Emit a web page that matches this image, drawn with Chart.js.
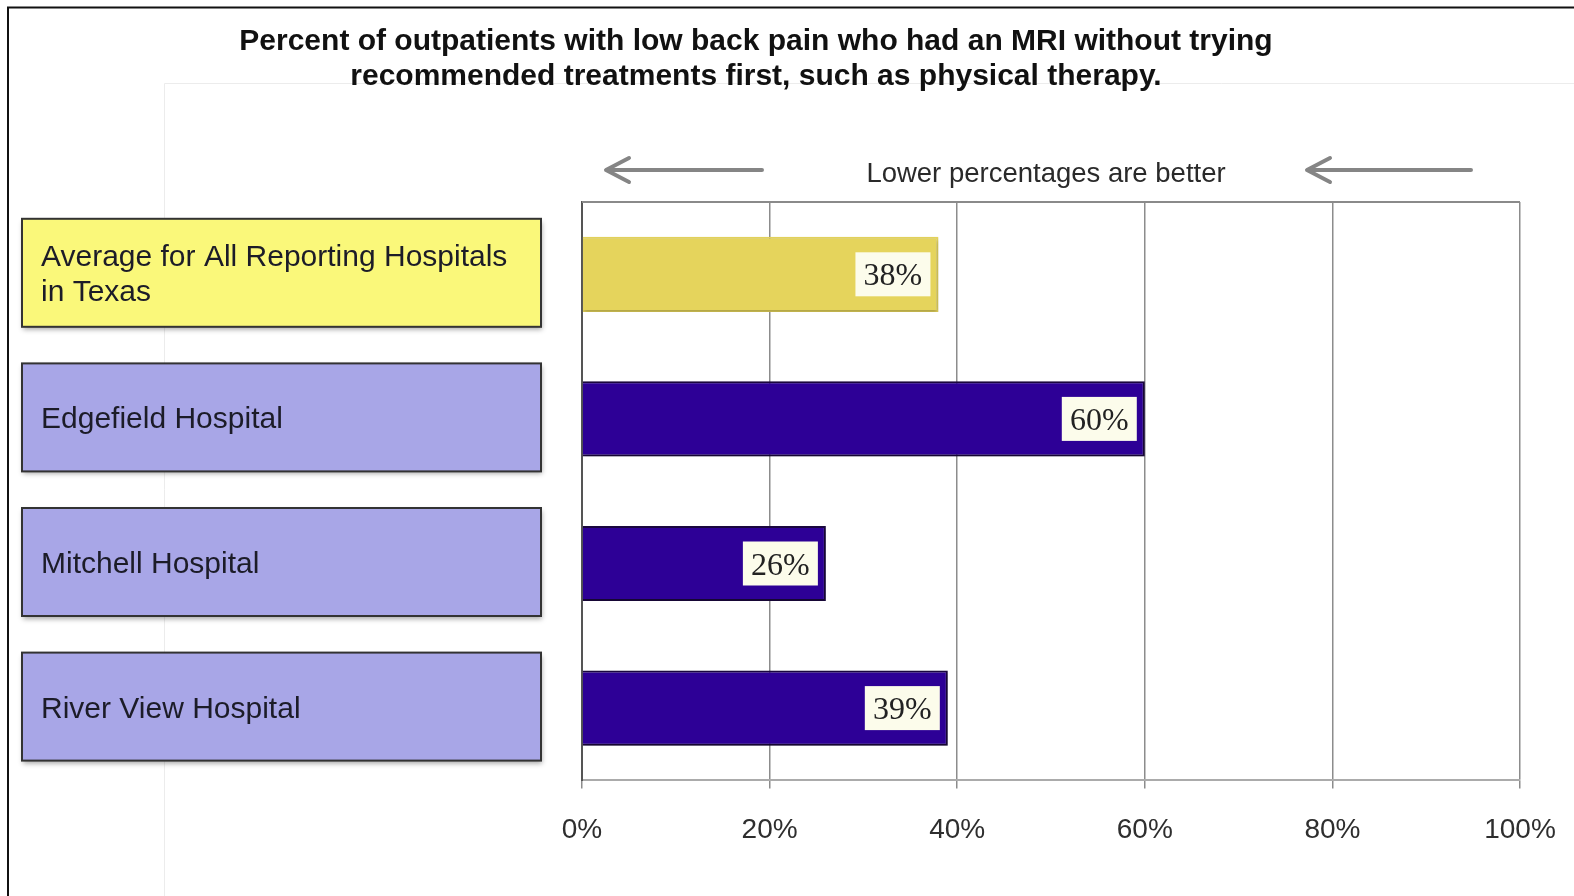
<!DOCTYPE html>
<html>
<head>
<meta charset="utf-8">
<title>MRI without recommended treatments</title>
<script src="https://cdn.jsdelivr.net/npm/chart.js@4.4.0/dist/chart.umd.min.js"></script>
<style>
  html, body { margin: 0; padding: 0; background: #fff; }
  #mriChart { display: block; }
</style>
</head>
<body>
<canvas id="mriChart" width="1574" height="896"></canvas>
<script>
// données
var titleLines = ["Percent of outpatients with low back pain who had an MRI without trying",
                  "recommended treatments first, such as physical therapy."];
var hintText = "Lower percentages are better";
var hospitals = [["Average for All Reporting Hospitals", "in Texas"],
                 ["Edgefield Hospital"],
                 ["Mitchell Hospital"],
                 ["River View Hospital"]];
var mriPercent = [38, 60, 26, 39];
var tickSteps = [0, 20, 40, 60, 80, 100];

var YELLOW = "#e5d45c";
var PURPLE = "#2d0096";

function drawArrow(ctx, tipX, tailX, y) {
    ctx.beginPath();
    ctx.moveTo(tailX, y);
    ctx.lineTo(tipX + 2, y);
    ctx.moveTo(tipX + 23, y - 12);
    ctx.lineTo(tipX, y);
    ctx.lineTo(tipX + 23, y + 12);
    ctx.stroke();
}

// fond, cadre, titre, flèches
var decorPlugin = {
    id: "decor",
    beforeDraw: function (chart) {
        var ctx = chart.ctx;
        ctx.save();
        ctx.fillStyle = "#fff";
        ctx.fillRect(0, 0, chart.width, chart.height);

        // lignes pâles du fond
        ctx.strokeStyle = "#ececec";
        ctx.lineWidth = 1;
        ctx.beginPath();
        ctx.moveTo(164.5, chart.height);
        ctx.lineTo(164.5, 83.5);
        ctx.lineTo(chart.width, 83.5);
        ctx.stroke();

        // cadre noir
        ctx.strokeStyle = "#111";
        ctx.lineWidth = 2;
        ctx.beginPath();
        ctx.moveTo(8, chart.height + 2);
        ctx.lineTo(8, 7.5);
        ctx.lineTo(chart.width + 2, 7.5);
        ctx.stroke();

        // titre
        ctx.fillStyle = "#111";
        ctx.textAlign = "center";
        ctx.textBaseline = "alphabetic";
        ctx.font = "bold 30px 'Liberation Sans', Arial, sans-serif";
        ctx.fillText(titleLines[0], 756, 50);
        ctx.fillText(titleLines[1], 756, 85);

        // indication
        ctx.fillStyle = "#2a2a2a";
        ctx.font = "27.5px 'Liberation Sans', Arial, sans-serif";
        ctx.fillText(hintText, 1046, 182);

        ctx.strokeStyle = "#858585";
        ctx.lineWidth = 4;
        ctx.lineCap = "round";
        ctx.lineJoin = "round";
        drawArrow(ctx, 606, 762, 170);
        drawArrow(ctx, 1307, 1471, 170);
        ctx.restore();
    },
    beforeDatasetsDraw: function (chart) {
        var ctx = chart.ctx;
        ctx.save();
        ctx.shadowColor = "rgba(0,0,0,0.28)";
        ctx.shadowBlur = 4;
        ctx.shadowOffsetY = 2;
        ctx.shadowOffsetX = 1;
    },
    afterDatasetsDraw: function (chart) {
        var ctx = chart.ctx;
        ctx.restore();

        // étiquettes de valeur
        var meta = chart.getDatasetMeta(0);
        ctx.save();
        ctx.font = "32px 'Liberation Serif', 'Times New Roman', serif";
        ctx.textAlign = "center";
        ctx.textBaseline = "alphabetic";
        meta.data.forEach(function (bar, i) {
            var w = 75, h = 44;
            var bx = bar.x - 8 - w;
            var by = bar.y - h / 2;
            ctx.fillStyle = "#fcfceb";
            ctx.fillRect(bx, by, w, h);
            ctx.fillStyle = "#222";
            ctx.fillText(mriPercent[i] + "%", bx + w / 2, bar.y + 11);
        });
        ctx.restore();
    },
    afterDraw: function (chart) {
        var ctx = chart.ctx;
        var area = chart.chartArea;
        var yScale = chart.scales.y;
        ctx.save();

        // bord supérieur de la zone
        ctx.strokeStyle = "#8a8a8a";
        ctx.lineWidth = 2;
        ctx.beginPath();
        ctx.moveTo(area.left, area.top);
        ctx.lineTo(area.right, area.top);
        ctx.stroke();

        // boîtes de noms d'hôpitaux
        ctx.font = "30px 'Liberation Sans', Arial, sans-serif";
        ctx.textAlign = "left";
        ctx.textBaseline = "alphabetic";
        hospitals.forEach(function (lines, i) {
            var cy = yScale.getPixelForValue(i) - 1.5;
            var left = 22, right = 541, h = 108;
            ctx.save();
            ctx.shadowColor = "rgba(0,0,0,0.35)";
            ctx.shadowBlur = 5;
            ctx.shadowOffsetX = 1;
            ctx.shadowOffsetY = 3;
            ctx.fillStyle = i === 0 ? "#faf87a" : "#a8a6e7";
            ctx.fillRect(left, cy - h / 2, right - left, h);
            ctx.restore();
            ctx.strokeStyle = "#333";
            ctx.lineWidth = 2;
            ctx.strokeRect(left, cy - h / 2, right - left, h);
            ctx.fillStyle = "#1c1c28";
            lines.forEach(function (txt, k) {
                var by = cy + 11 + (k - (lines.length - 1) / 2) * 35;
                ctx.fillText(txt, left + 19, by);
            });
        });
        ctx.restore();
    }
};

var ctx = document.getElementById("mriChart").getContext("2d");
var mriChart = new Chart(ctx, {
    type: "bar",
    data: {
        labels: hospitals,
        datasets: [{
            data: mriPercent,
            backgroundColor: mriPercent.map(function (v, i) { return i === 0 ? YELLOW : PURPLE; }),
            borderColor: mriPercent.map(function (v, i) { return i === 0 ? YELLOW : "#1b0840"; }),
            borderWidth: 2,
            barPercentage: 0.52,
            categoryPercentage: 1
        }]
    },
    options: {
        indexAxis: "y",
        responsive: false,
        animation: false,
        devicePixelRatio: 1,
        layout: {
            padding: { left: 582, right: 54, top: 202, bottom: 24 }
        },
        plugins: {
            legend: { display: false },
            title: { display: false },
            tooltip: { enabled: false }
        },
        scales: {
            x: {
                min: 0,
                max: 100,
                afterBuildTicks: function (axis) {
                    axis.ticks = tickSteps.map(function (v) { return { value: v }; });
                },
                afterFit: function (axis) {
                    axis.paddingLeft = 0;
                    axis.paddingRight = 0;
                },
                grid: {
                    color: "#8c8c8c",
                    lineWidth: 1.5,
                    tickLength: 8,
                    drawTicks: true
                },
                border: { display: true, color: "#ababab", width: 2 },
                ticks: {
                    padding: 25,
                    color: "#2e2e2e",
                    font: { family: "'Liberation Sans', Arial, sans-serif", size: 28 },
                    maxRotation: 0,
                    callback: function (v) { return v + "%"; }
                }
            },
            y: {
                grid: { display: false, drawTicks: false },
                border: { display: true, color: "#555", width: 2 },
                ticks: { display: false }
            }
        }
    },
    plugins: [decorPlugin]
});
</script>
</body>
</html>
